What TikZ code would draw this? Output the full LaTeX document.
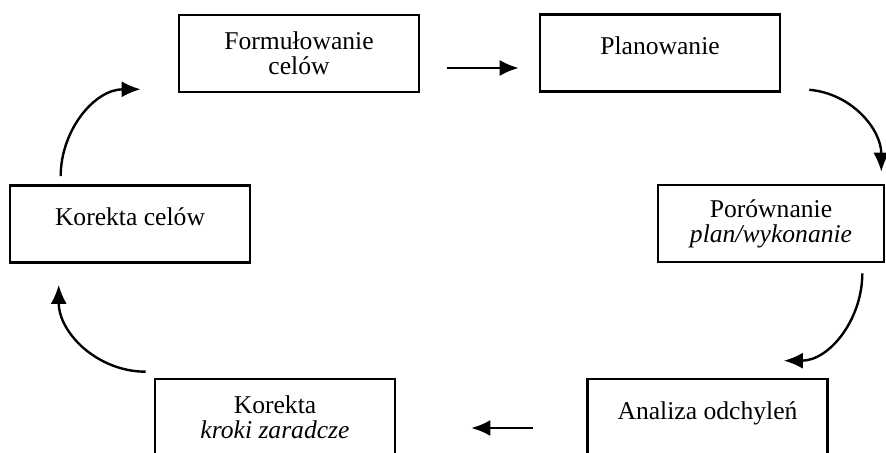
\documentclass[tikz,border=0pt]{standalone}
\usepackage{fontspec}
\setmainfont{Liberation Serif}
\usetikzlibrary{arrows.meta,calc}

\begin{document}
\begin{tikzpicture}[
    x=0.5pt, y=0.5pt,
    stage/.style={draw, rectangle, align=center, minimum width=120pt, minimum height=38.5pt, line width=1.3pt, font=\fontsize{12.8}{12.5}\selectfont, inner sep=2pt},
    oneline/.style={text depth=7pt},
    arrow/.style={-{Latex[length=9.5pt,width=8pt]}, line width=1.2pt},
  ]
    \useasboundingbox (0,0) rectangle (886,453);
    \clip (0,0) rectangle (886,453);

    \node[stage]                     (form) at (299,399.5) {Formułowanie\\celów};
    \node[stage, oneline]            (plan) at (660,400)   {Planowanie};
    \node[stage, oneline]            (korc) at (130,229)   {Korekta celów};
    \node[stage, minimum width=113pt](por)  at (771,229.5) {Porównanie\\\textit{plan/wykonanie}};
    \node[stage, oneline]            (anal) at (707.5,35.5) {Analiza odchyleń};
    \node[stage]                     (kor)  at (275,35.5)  {Korekta\\\textit{kroki zaradcze}};

    \draw[arrow] ($(form.east)+(27,-14.5)$) -- ($(plan.west)+(-20,-15)$);
    \draw[arrow] ($(plan.south east)+(28,3)$) to[out=-5,in=90] ($(por.north east)+(-4,12)$);
    \draw[arrow] ($(por.south east)+(-23,-10)$) to[out=-90,in=0] ($(anal.north east)+(-45,17)$);
    \draw[arrow] ($(anal.west)+(-53,-10.5)$) -- ($(kor.east)+(75,-10.5)$);
    \draw[arrow] ($(kor.north west)+(-8,6)$) to[out=180,in=-90] ($(korc.south west)+(50,-21)$);
    \draw[arrow] ($(korc.north west)+(52,8)$) to[out=90,in=180] ($(form.south west)+(-37,4)$);
  \end{tikzpicture}
\end{document}
